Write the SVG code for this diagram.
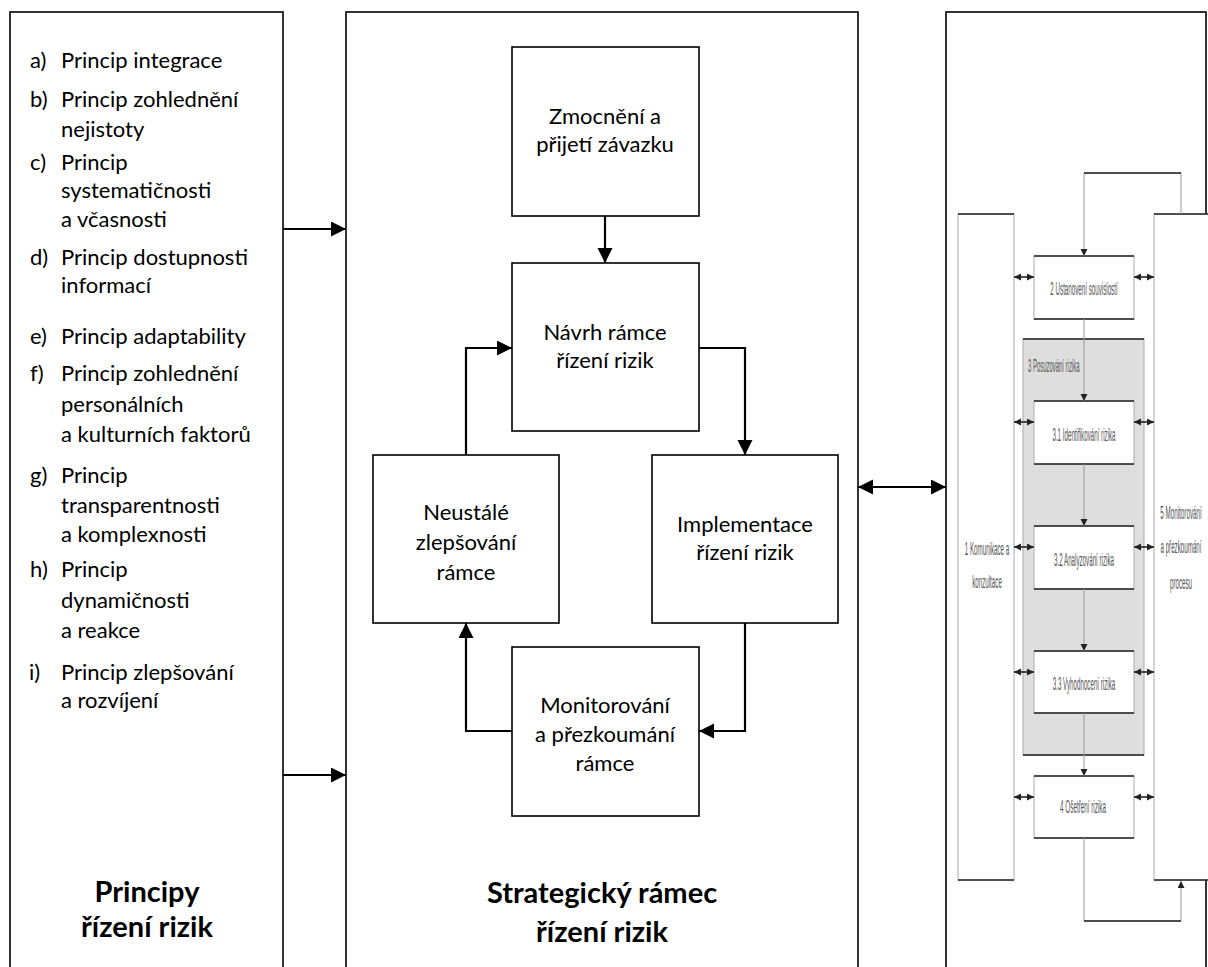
<svg xmlns="http://www.w3.org/2000/svg" width="1208" height="967" viewBox="0 0 1208 967">
<style>
.panel{fill:#fff;stroke:#000;stroke-width:1.6}
.box{fill:#fff;stroke:#000;stroke-width:1.6}
.t{font-family:Lato,"Liberation Sans",sans-serif;font-size:22px;fill:#000}
.c{text-anchor:middle}
.ttl{font-family:Lato,"Liberation Sans",sans-serif;font-size:29px;font-weight:bold;fill:#000;text-anchor:middle}
.conn{fill:none;stroke:#000;stroke-width:2.2}
.rbox{fill:#fff;stroke:#aaa;stroke-width:1}
.hl{stroke:#222;stroke-width:1.6}
.rconn{fill:none;stroke:#999;stroke-width:1}
.rdbl{fill:none;stroke:#222;stroke-width:1.6}
.rt{font-family:"Liberation Sans",sans-serif;font-size:18px;fill:#555;text-anchor:middle}
.rs{font-family:"Liberation Sans",sans-serif;font-size:18px;fill:#555}
</style>
<defs>
<marker id="ah" markerUnits="userSpaceOnUse" markerWidth="16" markerHeight="16" refX="15" refY="7.5" orient="auto-start-reverse">
<path d="M0,0 L15,7.5 L0,15 z" fill="#000"/>
</marker>
<marker id="sh" markerUnits="userSpaceOnUse" markerWidth="8" markerHeight="8" refX="7" refY="3.5" orient="auto-start-reverse">
<path d="M0,0 L7,3.5 L0,7 z" fill="#222"/>
</marker>
</defs>

<!-- Left panel -->
<g id="principy">
<rect class="panel" x="10" y="12" width="273" height="975"/>
<g class="t">
<text x="30" y="68">a)</text><text x="61" y="68">Princip integrace</text>
<text x="30" y="107">b)</text><text x="61" y="107">Princip zohlednění</text>
<text x="61" y="137">nejistoty</text>
<text x="30" y="170">c)</text><text x="61" y="170">Princip</text>
<text x="61" y="198">systematičnosti</text>
<text x="61" y="227">a včasnosti</text>
<text x="30" y="265">d)</text><text x="61" y="265">Princip dostupnosti</text>
<text x="61" y="293">informací</text>
<text x="30" y="344">e)</text><text x="61" y="344">Princip adaptability</text>
<text x="30" y="381">f)</text><text x="61" y="381">Princip zohlednění</text>
<text x="61" y="412">personálních</text>
<text x="61" y="442">a kulturních faktorů</text>
<text x="30" y="483">g)</text><text x="61" y="483">Princip</text>
<text x="61" y="513">transparentnosti</text>
<text x="61" y="542">a komplexnosti</text>
<text x="30" y="577">h)</text><text x="61" y="577">Princip</text>
<text x="61" y="608">dynamičnosti</text>
<text x="61" y="638">a reakce</text>
<text x="29" y="680">i)</text><text x="61" y="680">Princip zlepšování</text>
<text x="61" y="708">a rozvíjení</text>
</g>
<text class="ttl" x="147" y="902">Principy</text>
<text class="ttl" x="147" y="937">řízení rizik</text>
</g>

<!-- Middle panel -->
<g id="ramec">
<rect class="panel" x="346" y="12" width="512" height="975"/>
<text class="ttl" x="602" y="903">Strategický rámec</text>
<text class="ttl" x="602" y="942">řízení rizik</text>
</g>

<g id="zmocneni">
<rect class="box" x="512" y="47" width="187" height="169"/>
<text class="t c" x="605" y="124">Zmocnění a</text>
<text class="t c" x="605" y="152">přijetí závazku</text>
</g>
<g id="navrh">
<rect class="box" x="512" y="263" width="187" height="168"/>
<text class="t c" x="605" y="340">Návrh rámce</text>
<text class="t c" x="605" y="368">řízení rizik</text>
</g>
<g id="zlepsovani">
<rect class="box" x="373" y="455" width="186" height="168"/>
<text class="t c" x="466" y="520">Neustálé</text>
<text class="t c" x="466" y="550">zlepšování</text>
<text class="t c" x="466" y="580">rámce</text>
</g>
<g id="implementace">
<rect class="box" x="652" y="455" width="186" height="168"/>
<text class="t c" x="745" y="532">Implementace</text>
<text class="t c" x="745" y="560">řízení rizik</text>
</g>
<g id="monitorovani">
<rect class="box" x="512" y="647" width="187" height="169"/>
<text class="t c" x="605" y="713">Monitorování</text>
<text class="t c" x="605" y="742">a přezkoumání</text>
<text class="t c" x="605" y="771">rámce</text>
</g>

<!-- Right panel -->
<g id="proces">
<rect class="panel" x="946" y="12" width="260" height="975"/>
<rect x="1023" y="339" width="121" height="416" fill="#dedede" stroke="#aaa" stroke-width="1"/>
<line class="hl" x1="1023" y1="339" x2="1144" y2="339"/>
<line class="hl" x1="1023" y1="755" x2="1144" y2="755"/>
<text class="rs" transform="translate(1028,372) scale(0.33,1)">3 Posuzování rizika</text>
</g>
<g id="komunikace">
<rect class="rbox" x="958" y="214" width="56" height="666"/>
<line class="hl" x1="958" y1="214" x2="1014" y2="214"/>
<line class="hl" x1="958" y1="880" x2="1014" y2="880"/>
<text class="rt" transform="translate(987,555) scale(0.345,1)">1 Komunikace a</text>
<text class="rt" transform="translate(987,588) scale(0.345,1)">konzultace</text>
</g>
<g id="monitorovani-procesu">
<rect class="rbox" x="1154" y="214" width="60" height="666"/>
<line class="hl" x1="1154" y1="214" x2="1208" y2="214"/>
<line class="hl" x1="1154" y1="880" x2="1208" y2="880"/>
<text class="rt" transform="translate(1181,519) scale(0.35,1)">5 Monitorování</text>
<text class="rt" transform="translate(1181,553) scale(0.345,1)">a přezkoumání</text>
<text class="rt" transform="translate(1181,589) scale(0.345,1)">procesu</text>
</g>
<g id="souvislosti">
<rect class="rbox" x="1034" y="256" width="100" height="63"/>
<line class="hl" x1="1034" y1="256" x2="1134" y2="256"/>
<line class="hl" x1="1034" y1="319" x2="1134" y2="319"/>
<text class="rt" transform="translate(1084,295) scale(0.345,1)">2 Ustanovení souvislostí</text>
</g>
<g id="identifikovani">
<rect class="rbox" x="1034" y="401" width="100" height="63"/>
<line class="hl" x1="1034" y1="401" x2="1134" y2="401"/>
<line class="hl" x1="1034" y1="464" x2="1134" y2="464"/>
<text class="rt" transform="translate(1084,441) scale(0.345,1)">3.1 Identifikování rizika</text>
</g>
<g id="analyzovani">
<rect class="rbox" x="1034" y="526" width="100" height="63"/>
<line class="hl" x1="1034" y1="526" x2="1134" y2="526"/>
<line class="hl" x1="1034" y1="589" x2="1134" y2="589"/>
<text class="rt" transform="translate(1084,566) scale(0.345,1)">3.2 Analyzování rizika</text>
</g>
<g id="vyhodnoceni">
<rect class="rbox" x="1034" y="651" width="100" height="62"/>
<line class="hl" x1="1034" y1="651" x2="1134" y2="651"/>
<line class="hl" x1="1034" y1="713" x2="1134" y2="713"/>
<text class="rt" transform="translate(1084,690) scale(0.345,1)">3.3 Vyhodnocení rizika</text>
</g>
<g id="osetreni">
<rect class="rbox" x="1034" y="776" width="100" height="62"/>
<line class="hl" x1="1034" y1="776" x2="1134" y2="776"/>
<line class="hl" x1="1034" y1="838" x2="1134" y2="838"/>
<text class="rt" transform="translate(1083,813) scale(0.35,1)">4 Ošetření rizika</text>
</g>

<!-- Connectors -->
<g id="connectors">
<line class="conn" x1="283" y1="229" x2="346" y2="229" marker-end="url(#ah)"/>
<line class="conn" x1="283" y1="775" x2="346" y2="775" marker-end="url(#ah)"/>
<line class="conn" x1="858" y1="487" x2="946" y2="487" marker-start="url(#ah)" marker-end="url(#ah)"/>
<line class="conn" x1="605" y1="216" x2="605" y2="263" marker-end="url(#ah)"/>
<polyline class="conn" points="699,348 745,348 745,455" marker-end="url(#ah)"/>
<polyline class="conn" points="745,623 745,731 699,731" marker-end="url(#ah)"/>
<polyline class="conn" points="512,731 466,731 466,623" marker-end="url(#ah)"/>
<polyline class="conn" points="466,455 466,348 512,348" marker-end="url(#ah)"/>

<polyline class="rconn" points="1181,214 1181,173 1084,173 1084,256" marker-end="url(#sh)"/>
<line class="hl" x1="1084" y1="173" x2="1181" y2="173"/>
<line class="rconn" x1="1084" y1="319" x2="1084" y2="401" marker-end="url(#sh)"/>
<line class="rconn" x1="1084" y1="464" x2="1084" y2="526" marker-end="url(#sh)"/>
<line class="rconn" x1="1084" y1="589" x2="1084" y2="651" marker-end="url(#sh)"/>
<line class="rconn" x1="1084" y1="713" x2="1084" y2="776" marker-end="url(#sh)"/>
<polyline class="rconn" points="1084,838 1084,921 1181,921 1181,881" marker-end="url(#sh)"/>
<line class="hl" x1="1084" y1="921" x2="1181" y2="921"/>
<line class="rdbl" x1="1014" y1="277" x2="1034" y2="277" marker-start="url(#sh)" marker-end="url(#sh)"/>
<line class="rdbl" x1="1134" y1="277" x2="1154" y2="277" marker-start="url(#sh)" marker-end="url(#sh)"/>
<line class="rdbl" x1="1014" y1="422" x2="1034" y2="422" marker-start="url(#sh)" marker-end="url(#sh)"/>
<line class="rdbl" x1="1134" y1="422" x2="1154" y2="422" marker-start="url(#sh)" marker-end="url(#sh)"/>
<line class="rdbl" x1="1014" y1="547" x2="1034" y2="547" marker-start="url(#sh)" marker-end="url(#sh)"/>
<line class="rdbl" x1="1134" y1="547" x2="1154" y2="547" marker-start="url(#sh)" marker-end="url(#sh)"/>
<line class="rdbl" x1="1014" y1="672" x2="1034" y2="672" marker-start="url(#sh)" marker-end="url(#sh)"/>
<line class="rdbl" x1="1134" y1="672" x2="1154" y2="672" marker-start="url(#sh)" marker-end="url(#sh)"/>
<line class="rdbl" x1="1014" y1="797" x2="1034" y2="797" marker-start="url(#sh)" marker-end="url(#sh)"/>
<line class="rdbl" x1="1134" y1="797" x2="1154" y2="797" marker-start="url(#sh)" marker-end="url(#sh)"/>
</g>
</svg>
